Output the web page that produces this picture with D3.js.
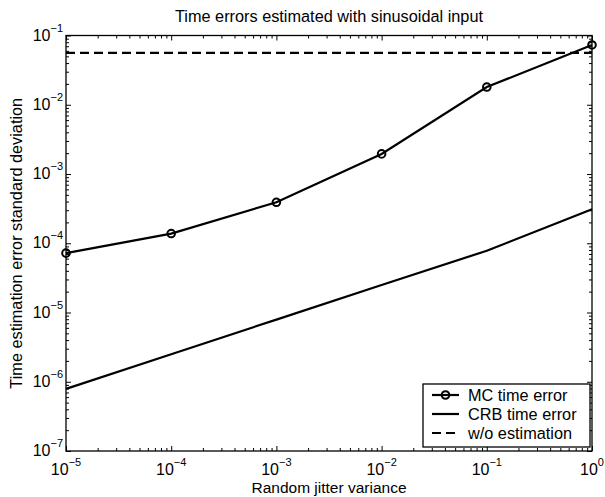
<!DOCTYPE html>
<html>
<head>
<meta charset="utf-8">
<script src="https://cdn.jsdelivr.net/npm/d3@7"></script>
<style>
  body { margin: 0; background: #fff; }
  text { font-family: "Liberation Sans", Arial, sans-serif; fill: #000; }
  .axis path { display: none; }
  .axis line { stroke: #000; stroke-width: 1; }
</style>
</head>
<body>
<div id="chart"></div>
<script>
// data
var jitterVar = [1e-5, 1e-4, 1e-3, 1e-2, 1e-1, 1];
var mcError = [7.2e-5, 1.38e-4, 3.9e-4, 1.95e-3, 0.018, 0.073];
var crbError = [7.9e-7, 2.5e-6, 7.9e-6, 2.5e-5, 7.8e-5, 3.1e-4];
var noEstError = [0.056, 0.056];
var xMajor = [-5, -4, -3, -2, -1, 0];   // exponents
var yMajor = [-7, -6, -5, -4, -3, -2, -1];
var legendLabels = ["MC time error", "CRB time error", "w/o estimation"];

var margin = {top: 35.5, right: 13, bottom: 46, left: 66},
    width = 605 - margin.left - margin.right,
    height = 497 - margin.top - margin.bottom;

var root = d3.select("#chart")
    .append("svg")
        .attr("width", 605)
        .attr("height", 497);

var svg = root.append("g")
        .attr("transform", "translate(" + margin.left + "," + margin.top + ")");

var x = d3.scaleLog()
        .domain([1e-5, 1])
        .range([0, width]);

var y = d3.scaleLog()
        .domain([1e-7, 1e-1])
        .range([height, 0]);

// minor ticks 2..9 per decade
function minors(lo, hi) {
    var m = [];
    for (var e = lo; e < hi; e++) {
        for (var k = 2; k <= 9; k++) m.push(k * Math.pow(10, e));
    }
    return m;
}
var xMinor = minors(-5, 0), yMinor = minors(-7, -1);
var xMajorV = xMajor.map(function(e) { return Math.pow(10, e); });
var yMajorV = yMajor.map(function(e) { return Math.pow(10, e); });

function ticks(axisFn, scale, vals, size, tx) {
    svg.append("g")
        .attr("class", "axis")
        .attr("transform", tx)
        .call(axisFn(scale).tickValues(vals).tickSize(-size).tickFormat(""));
}
ticks(d3.axisBottom, x, xMajorV, 5, "translate(0," + height + ")");
ticks(d3.axisBottom, x, xMinor, 3, "translate(0," + height + ")");
ticks(d3.axisTop, x, xMajorV, 5, "translate(0,0)");
ticks(d3.axisTop, x, xMinor, 3, "translate(0,0)");
ticks(d3.axisLeft, y, yMajorV, 5, "translate(0,0)");
ticks(d3.axisLeft, y, yMinor, 3, "translate(0,0)");
ticks(d3.axisRight, y, yMajorV, 5, "translate(" + width + ",0)");
ticks(d3.axisRight, y, yMinor, 3, "translate(" + width + ",0)");

// box
svg.append("rect")
    .attr("width", width)
    .attr("height", height)
    .attr("fill", "none")
    .attr("stroke", "#000")
    .attr("stroke-width", 1.3);

// tick labels 10^n
xMajor.forEach(function(e) {
    var t = svg.append("text")
        .attr("x", x(Math.pow(10, e)))
        .attr("y", height + 24)
        .attr("text-anchor", "middle")
        .style("font-size", "16px");
    t.append("tspan").text("10");
    t.append("tspan").attr("dy", -9).style("font-size", "11px").text(e === 0 ? "0" : "\u2212" + (-e));
});
yMajor.forEach(function(e) {
    var t = svg.append("text")
        .attr("x", -3)
        .attr("y", y(Math.pow(10, e)) + 5)
        .attr("text-anchor", "end")
        .style("font-size", "16px");
    t.append("tspan").text("10");
    t.append("tspan").attr("dy", -9).style("font-size", "11px").text("\u2212" + (-e));
});

// lines
var line = d3.line()
    .x(function(d) { return x(d[0]); })
    .y(function(d) { return y(d[1]); });

svg.append("path")
    .datum(jitterVar.map(function(v, i) { return [v, crbError[i]]; }))
    .attr("d", line)
    .attr("fill", "none").attr("stroke", "#000").attr("stroke-width", 2.2);

svg.append("path")
    .datum([[jitterVar[0], noEstError[0]], [jitterVar[jitterVar.length - 1], noEstError[1]]])
    .attr("d", line)
    .attr("fill", "none").attr("stroke", "#000").attr("stroke-width", 2.2)
    .attr("stroke-dasharray", "9,5");

var mc = jitterVar.map(function(v, i) { return [v, mcError[i]]; });
svg.append("path")
    .datum(mc)
    .attr("d", line)
    .attr("fill", "none").attr("stroke", "#000").attr("stroke-width", 2.2);

svg.selectAll(".mc-pt")
    .data(mc)
    .enter().append("circle")
    .attr("class", "mc-pt")
    .attr("cx", function(d) { return x(d[0]); })
    .attr("cy", function(d) { return y(d[1]); })
    .attr("r", 3.8)
    .attr("fill", "none").attr("stroke", "#000").attr("stroke-width", 2);

// titles
root.append("text")
    .attr("x", margin.left + width / 2)
    .attr("y", 22)
    .attr("text-anchor", "middle")
    .style("font-size", "16.3px")
    .text("Time errors estimated with sinusoidal input");

root.append("text")
    .attr("x", margin.left + width / 2)
    .attr("y", 493)
    .attr("text-anchor", "middle")
    .style("font-size", "15.5px")
    .text("Random jitter variance");

root.append("text")
    .attr("transform", "translate(22," + (margin.top + height / 2) + ") rotate(-90)")
    .attr("text-anchor", "middle")
    .style("font-size", "16.3px")
    .text("Time estimation error standard deviation");

// legend
var lg = svg.append("g")
    .attr("transform", "translate(" + (width - 169) + "," + (height - 67) + ")");
lg.append("rect")
    .attr("width", 167).attr("height", 63)
    .attr("fill", "#fff").attr("stroke", "#000").attr("stroke-width", 1.3);

legendLabels.forEach(function(lab, i) {
    var ly = 11 + i * 19;
    lg.append("line")
        .attr("x1", 9).attr("x2", 36).attr("y1", ly).attr("y2", ly)
        .attr("stroke", "#000").attr("stroke-width", 2.2)
        .attr("stroke-dasharray", i === 2 ? "9,5" : null);
    if (i === 0) {
        lg.append("circle").attr("cx", 22.5).attr("cy", ly).attr("r", 3.8)
            .attr("fill", "none").attr("stroke", "#000").attr("stroke-width", 2);
    }
    lg.append("text")
        .attr("x", 45).attr("y", ly + 6)
        .style("font-size", "16.3px")
        .text(lab);
});
</script>
</body>
</html>
